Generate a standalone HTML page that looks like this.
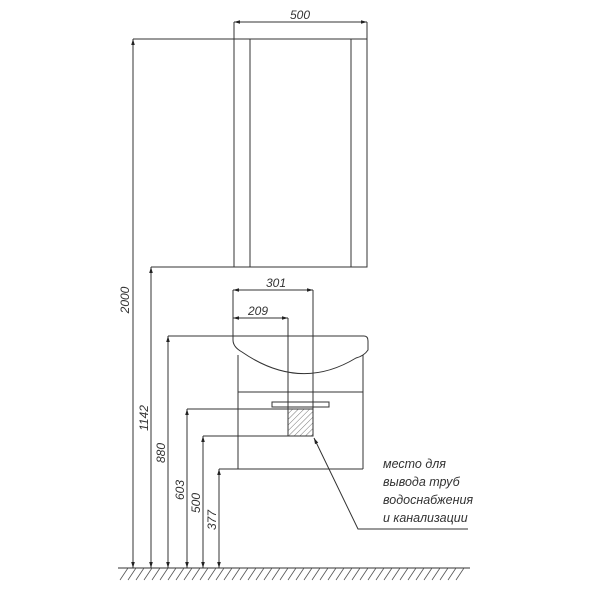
<!DOCTYPE html>
<html><head><meta charset="utf-8"><style>body{margin:0;background:#fff}svg{display:block}</style></head><body>
<svg width="600" height="600" viewBox="0 0 600 600" xmlns="http://www.w3.org/2000/svg">
<defs>
<marker id="a" viewBox="0 0 10 10" refX="10" refY="5" markerWidth="8" markerHeight="6" orient="auto-start-reverse" markerUnits="userSpaceOnUse"><path d="M0,2 L10,5 L0,8z" fill="#222"/></marker>
<pattern id="h" width="4" height="4" patternUnits="userSpaceOnUse" patternTransform="rotate(45)"><line x1="0" y1="0" x2="0" y2="4" stroke="#777" stroke-width="1"/></pattern>
</defs>
<g stroke="#333" stroke-width="1" fill="none">
<!-- upper cabinet -->
<rect x="234" y="39" width="133" height="228"/>
<line x1="250" y1="39" x2="250" y2="267"/>
<line x1="351" y1="39" x2="351" y2="267"/>
<line x1="133" y1="39" x2="234" y2="39"/>
<line x1="234" y1="22" x2="234" y2="39"/>
<line x1="367" y1="22" x2="367" y2="39"/>
<line x1="234" y1="22" x2="367" y2="22" marker-start="url(#a)" marker-end="url(#a)"/>
<line x1="151" y1="267" x2="234" y2="267"/>
<!-- sink -->
<path d="M233,336 L364,336 Q368,336 368,341 L368,350 Q364,356 356,358 Q300,392 242,352 Q233,347 233,340 Z"/>
<line x1="238" y1="355" x2="238" y2="469"/>
<line x1="363" y1="355" x2="363" y2="469"/>
<line x1="238" y1="392" x2="363" y2="392"/>
<line x1="219" y1="469" x2="363" y2="469"/>
<line x1="168" y1="336" x2="233" y2="336"/>
<rect x="272" y="402" width="57" height="5"/>
<rect x="288" y="409" width="25" height="27" fill="url(#h)"/>
<line x1="187" y1="409" x2="313" y2="409"/>
<line x1="203" y1="436" x2="313" y2="436"/>
<line x1="288" y1="318" x2="288" y2="436"/>
<line x1="313" y1="290" x2="313" y2="436"/>
<line x1="233" y1="290" x2="233" y2="336"/>
<line x1="233" y1="290" x2="313" y2="290" marker-start="url(#a)" marker-end="url(#a)"/>
<line x1="233" y1="318" x2="288" y2="318" marker-start="url(#a)" marker-end="url(#a)"/>
<!-- verticals -->
<line x1="133" y1="568" x2="133" y2="39" marker-start="url(#a)" marker-end="url(#a)"/>
<line x1="151" y1="568" x2="151" y2="267" marker-start="url(#a)" marker-end="url(#a)"/>
<line x1="168" y1="568" x2="168" y2="336" marker-start="url(#a)" marker-end="url(#a)"/>
<line x1="187" y1="568" x2="187" y2="409" marker-start="url(#a)" marker-end="url(#a)"/>
<line x1="203" y1="568" x2="203" y2="436" marker-start="url(#a)" marker-end="url(#a)"/>
<line x1="219" y1="568" x2="219" y2="469" marker-start="url(#a)" marker-end="url(#a)"/>
<!-- leader -->
<polyline points="468,529 358,529 314,438" marker-end="url(#a)"/>
<!-- ground -->
<line x1="118" y1="568" x2="470" y2="568"/>
</g>
<g stroke="#555" stroke-width="0.8">
<path d="M120,580 l8,-12 M128,580 l8,-12 M136,580 l8,-12 M144,580 l8,-12 M152,580 l8,-12 M160,580 l8,-12 M168,580 l8,-12 M176,580 l8,-12 M184,580 l8,-12 M192,580 l8,-12 M200,580 l8,-12 M208,580 l8,-12 M216,580 l8,-12 M224,580 l8,-12 M232,580 l8,-12 M240,580 l8,-12 M248,580 l8,-12 M256,580 l8,-12 M264,580 l8,-12 M272,580 l8,-12 M280,580 l8,-12 M288,580 l8,-12 M296,580 l8,-12 M304,580 l8,-12 M312,580 l8,-12 M320,580 l8,-12 M328,580 l8,-12 M336,580 l8,-12 M344,580 l8,-12 M352,580 l8,-12 M360,580 l8,-12 M368,580 l8,-12 M376,580 l8,-12 M384,580 l8,-12 M392,580 l8,-12 M400,580 l8,-12 M408,580 l8,-12 M416,580 l8,-12 M424,580 l8,-12 M432,580 l8,-12 M440,580 l8,-12 M448,580 l8,-12 M456,580 l8,-12"/>
</g>
<g font-family="Liberation Sans, sans-serif" font-style="italic" font-size="12" fill="#333" text-anchor="middle">
<text x="300" y="19">500</text>
<text x="276" y="287">301</text>
<text x="258" y="315">209</text>
<text transform="translate(129,300) rotate(-90)">2000</text>
<text transform="translate(148,418) rotate(-90)">1142</text>
<text transform="translate(165,453) rotate(-90)">880</text>
<text transform="translate(184,490) rotate(-90)">603</text>
<text transform="translate(200,503) rotate(-90)">500</text>
<text transform="translate(216,520) rotate(-90)">377</text>
</g>
<g font-family="Liberation Sans, sans-serif" font-style="italic" font-size="12.5" fill="#333">
<text x="383" y="468">место для</text>
<text x="383" y="486">вывода труб</text>
<text x="383" y="504">водоснабжения</text>
<text x="383" y="522">и канализации</text>
</g>
</svg>
</body></html>
